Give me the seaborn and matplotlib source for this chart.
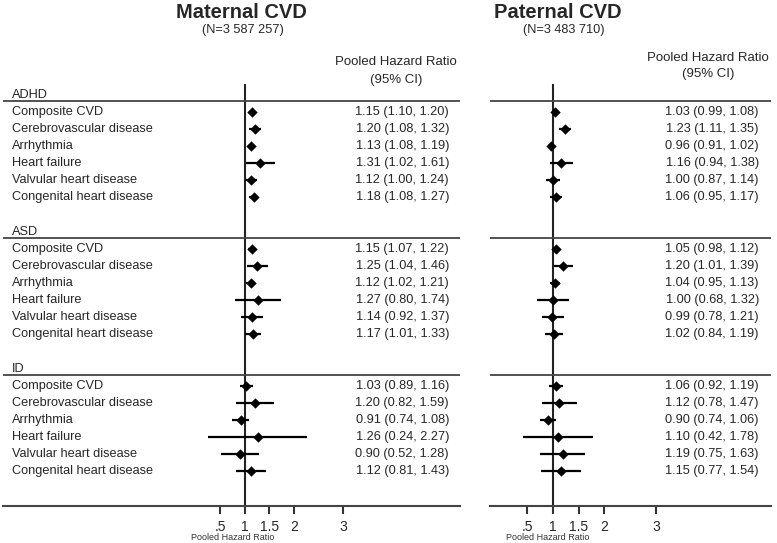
import matplotlib
matplotlib.use("Agg")
import matplotlib.pyplot as plt
import seaborn as sns
import pandas as pd

groups = ["ADHD", "ASD", "ID"]
outcomes = ["Composite CVD", "Cerebrovascular disease", "Arrhythmia",
            "Heart failure", "Valvular heart disease", "Congenital heart disease"]

# maternal CVD, rows in order ADHD x 6, ASD x 6, ID x 6
mat_hr = [1.15, 1.20, 1.13, 1.31, 1.12, 1.18,
          1.15, 1.25, 1.12, 1.27, 1.14, 1.17,
          1.03, 1.20, 0.91, 1.26, 0.90, 1.12]
mat_lo = [1.10, 1.08, 1.08, 1.02, 1.00, 1.08,
          1.07, 1.04, 1.02, 0.80, 0.92, 1.01,
          0.89, 0.82, 0.74, 0.24, 0.52, 0.81]
mat_hi = [1.20, 1.32, 1.19, 1.61, 1.24, 1.27,
          1.22, 1.46, 1.21, 1.74, 1.37, 1.33,
          1.16, 1.59, 1.08, 2.27, 1.28, 1.43]

# paternal CVD
pat_hr = [1.03, 1.23, 0.96, 1.16, 1.00, 1.06,
          1.05, 1.20, 1.04, 1.00, 0.99, 1.02,
          1.06, 1.12, 0.90, 1.10, 1.19, 1.15]
pat_lo = [0.99, 1.11, 0.91, 0.94, 0.87, 0.95,
          0.98, 1.01, 0.95, 0.68, 0.78, 0.84,
          0.92, 0.78, 0.74, 0.42, 0.75, 0.77]
pat_hi = [1.08, 1.35, 1.02, 1.38, 1.14, 1.17,
          1.12, 1.39, 1.13, 1.32, 1.21, 1.19,
          1.19, 1.47, 1.06, 1.78, 1.63, 1.54]

tick_vals = [0.5, 1, 1.5, 2, 3]
tick_labels = [".5", "1", "1.5", "2", "3"]

sns.set_style("white")
plt.rcParams["font.family"] = ["Liberation Sans", "DejaVu Sans"]

W, H = 777, 543
ROW0, GSTEP = 1.66, 8.04   # row layout in row units (1 unit = 17 px)


def fx(px):
    return px / W


def fy(py):
    return 1 - py / H


def make_df(hr, lo, hi):
    rows = []
    for i in range(len(hr)):
        g, k = divmod(i, 6)
        rows.append({"group": groups[g], "outcome": outcomes[k],
                     "hr": hr[i], "lo": lo[i], "hi": hi[i],
                     "y": ROW0 + g * GSTEP + k})
    return pd.DataFrame(rows)


def draw_panel(ax, df, xlim, val_x, labels):
    ax.set_xlim(*xlim)
    ax.set_ylim(24.82, 0)
    ax.hlines(df["y"], df["lo"], df["hi"], color="black", lw=1.6, zorder=2)
    sns.scatterplot(data=df, x="hr", y="y", marker="D", s=28, color="black",
                    edgecolor="black", linewidth=0, legend=False, ax=ax, zorder=3)
    ax.axvline(1, color="#222222", lw=1.5, zorder=1)
    tr = ax.get_yaxis_transform()
    for g in range(3):
        ax.axhline(ROW0 + g * GSTEP - 0.65, color="#444444", lw=1.3)
        if labels:
            ax.text(0.02, ROW0 + g * GSTEP - 1.0, groups[g], transform=tr,
                    ha="left", va="center", fontsize=9.2)
    for _, r in df.iterrows():
        ax.text(val_x, r["y"], f"{r['hr']:.2f} ({r['lo']:.2f}, {r['hi']:.2f})",
                transform=tr, ha="right", va="center", fontsize=9.2)
        if labels:
            ax.text(0.02, r["y"], r["outcome"], transform=tr,
                    ha="left", va="center", fontsize=9.2)
    for s in ["top", "left", "right"]:
        ax.spines[s].set_visible(False)
    ax.spines["bottom"].set_color("#444444")
    ax.spines["bottom"].set_linewidth(1.5)
    ax.set_xticks(tick_vals)
    ax.set_xticklabels(tick_labels)
    ax.set_yticks([])
    ax.tick_params(axis="x", bottom=True, direction="out", length=6, width=1.5,
                   color="#333333", labelsize=10, pad=4)
    ax.set_xlabel("")
    ax.set_ylabel("")


fig = plt.figure(figsize=(W / 100, H / 100), dpi=100)
ax1 = fig.add_axes([fx(3), fy(506), fx(457), 422 / H])
ax2 = fig.add_axes([fx(490), fy(506), fx(281), 422 / H])

draw_panel(ax1, make_df(mat_hr, mat_lo, mat_hi), (-3.94, 5.39), 0.976, True)
draw_panel(ax2, make_df(pat_hr, pat_lo, pat_hi), (-0.223, 5.233), 0.957, False)

fig.text(fx(241), fy(12), "Maternal CVD", ha="center", va="center",
         fontsize=14.5, weight="bold")
fig.text(fx(243), fy(30), "(N=3 587 257)", ha="center", va="center", fontsize=9.2)
fig.text(fx(396), fy(62), "Pooled Hazard Ratio", ha="center", va="center", fontsize=9.5)
fig.text(fx(396), fy(80), "(95% CI)", ha="center", va="center", fontsize=9.5)

fig.text(fx(558), fy(12), "Paternal CVD", ha="center", va="center",
         fontsize=14.5, weight="bold")
fig.text(fx(564), fy(30), "(N=3 483 710)", ha="center", va="center", fontsize=9.2)
fig.text(fx(708), fy(58), "Pooled Hazard Ratio", ha="center", va="center", fontsize=9.5)
fig.text(fx(708), fy(74), "(95% CI)", ha="center", va="center", fontsize=9.5)

fig.text(fx(233), fy(537), "Pooled Hazard Ratio", ha="center", va="center",
         fontsize=6.5, color="#333333")
fig.text(fx(548), fy(537), "Pooled Hazard Ratio", ha="center", va="center",
         fontsize=6.5, color="#333333")

fig.savefig("out.png", dpi=100)
